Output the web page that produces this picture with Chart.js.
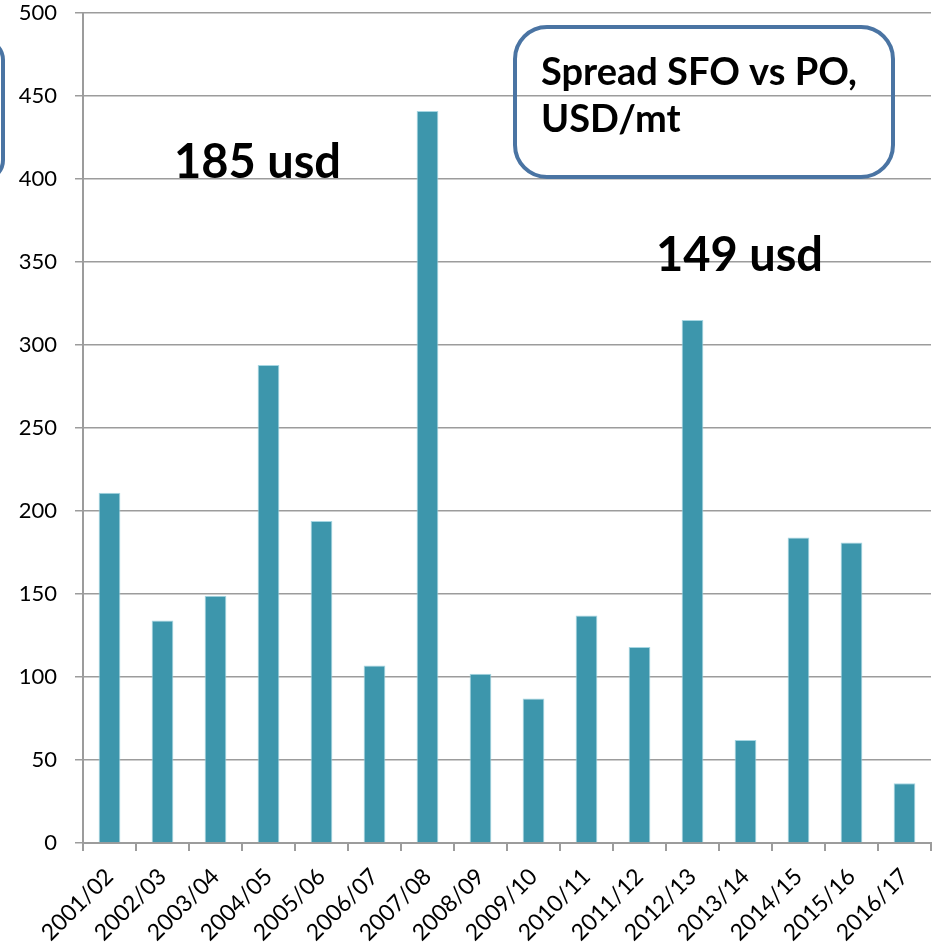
<!DOCTYPE html>
<html>
<head>
<meta charset="utf-8">
<script src="https://cdn.jsdelivr.net/npm/chart.js@4.4.1/dist/chart.umd.min.js"></script>
<style>
  html, body { margin: 0; padding: 0; background: #fff; }
  #wrap { width: 937px; height: 943px; position: relative; }
</style>
</head>
<body>
<div id="wrap"><canvas id="c"></canvas></div>
<script>
const categories = ["2001/02","2002/03","2003/04","2004/05","2005/06","2006/07","2007/08","2008/09","2009/10","2010/11","2011/12","2012/13","2013/14","2014/15","2015/16","2016/17"];
const spreadValues = [211, 134, 149, 288, 194, 107, 441, 102, 87, 137, 118, 315, 62, 184, 181, 36];
const yTicks = [0, 50, 100, 150, 200, 250, 300, 350, 400, 450, 500];
const titleLines = ["Spread SFO vs PO,", "USD/mt"];
const noteLeft = "185 usd";
const noteRight = "149 usd";

const FONT = "Lato, 'Open Sans', sans-serif";
const GRID = "#9c9c9c";
const BOX = "#4a74a3";

function roundRect(ctx, x, y, w, h, r) {
  ctx.beginPath();
  ctx.moveTo(x + r, y);
  ctx.lineTo(x + w - r, y);
  ctx.arcTo(x + w, y, x + w, y + r, r);
  ctx.lineTo(x + w, y + h - r);
  ctx.arcTo(x + w, y + h, x + w - r, y + h, r);
  ctx.lineTo(x + r, y + h);
  ctx.arcTo(x, y + h, x, y + h - r, r);
  ctx.lineTo(x, y + r);
  ctx.arcTo(x, y, x + r, y, r);
  ctx.closePath();
}

const annotations = {
  id: 'annotations',
  afterDraw(chart) {
    const ctx = chart.ctx;
    ctx.save();
    ctx.strokeStyle = BOX;
    ctx.lineWidth = 4;
    roundRect(ctx, -60, 40, 63, 140, 20);
    ctx.stroke();
    roundRect(ctx, 515, 27, 378, 150, 32);
    ctx.stroke();
    ctx.fillStyle = "#000";
    ctx.textAlign = "left";
    ctx.textBaseline = "alphabetic";
    ctx.font = "bold 38px " + FONT;
    ctx.fillText(titleLines[0], 541, 85);
    ctx.fillText(titleLines[1], 541, 132);
    ctx.font = "bold 47px " + FONT;
    ctx.fillText(noteLeft, 174, 178);
    ctx.fillText(noteRight, 656, 271);
    ctx.restore();
  }
};

new Chart(document.getElementById('c'), {
  type: 'bar',
  data: {
    labels: categories,
    datasets: [{
      data: spreadValues,
      backgroundColor: "#3d96ac",
      borderColor: "#a6d6e2",
      borderWidth: 1,
      categoryPercentage: 1.0,
      barPercentage: 0.41
    }]
  },
  options: {
    responsive: true,
    maintainAspectRatio: false,
    animation: false,
    devicePixelRatio: 1,
    layout: { padding: { top: 13, right: 6, left: 0, bottom: 0 } },
    plugins: { legend: { display: false }, tooltip: { enabled: false }, title: { display: false } },
    scales: {
      x: {
        offset: true,
        grid: { display: true, drawOnChartArea: false, drawTicks: true, tickLength: 8, color: GRID, lineWidth: 2, offset: true },
        border: { display: true, color: GRID, width: 2 },
        ticks: { color: "#000", font: { family: FONT, size: 23 }, maxRotation: 45, minRotation: 45, autoSkip: false, padding: 12 },
        afterFit(scale) { scale.height = 100; scale.paddingLeft = 0; scale.paddingRight = 0; }
      },
      y: {
        min: 0, max: 500,
        afterBuildTicks(scale) { scale.ticks = yTicks.map(v => ({ value: v })); },
        grid: { color: GRID, lineWidth: 1.5, tickLength: 8, drawTicks: true },
        border: { display: true, color: GRID, width: 2 },
        ticks: { color: "#000", font: { family: FONT, size: 22 }, padding: 18 },
        afterFit(scale) { scale.width = 83; scale.paddingTop = 0; scale.paddingBottom = 0; }
      }
    }
  },
  plugins: [annotations]
});
</script>
</body>
</html>
